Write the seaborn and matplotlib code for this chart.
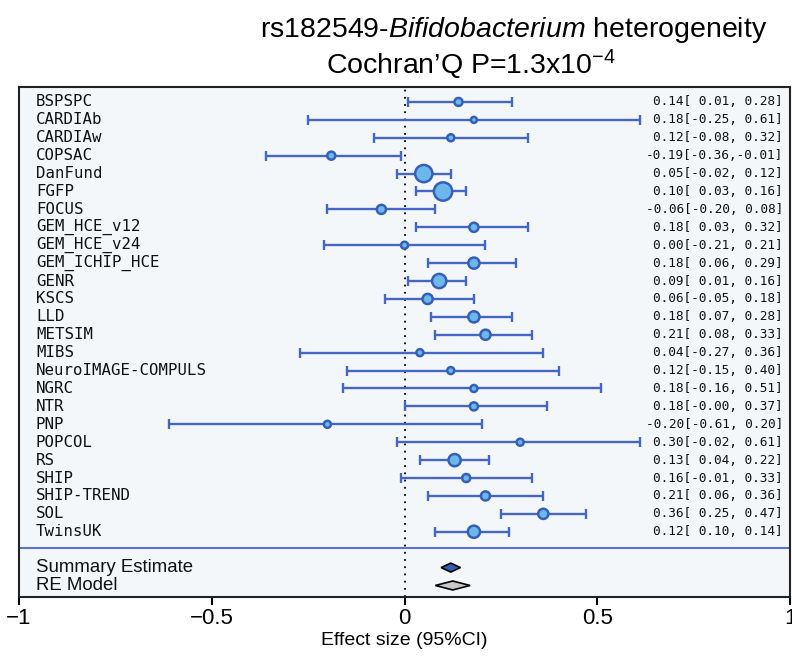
import matplotlib
matplotlib.use('Agg')

import numpy as np
import pandas as pd
import matplotlib.pyplot as plt
import seaborn as sns

# studies (top to bottom)
studies = ["BSPSPC", "CARDIAb", "CARDIAw", "COPSAC", "DanFund", "FGFP", "FOCUS",
           "GEM_HCE_v12", "GEM_HCE_v24", "GEM_ICHIP_HCE", "GENR", "KSCS", "LLD",
           "METSIM", "MIBS", "NeuroIMAGE-COMPULS", "NGRC", "NTR", "PNP", "POPCOL",
           "RS", "SHIP", "SHIP-TREND", "SOL", "TwinsUK"]

# effect sizes and 95% CI as drawn
est = [0.14, 0.18, 0.12, -0.19, 0.05, 0.10, -0.06, 0.18, 0.00, 0.18, 0.09, 0.06, 0.18,
       0.21, 0.04, 0.12, 0.18, 0.18, -0.20, 0.30, 0.13, 0.16, 0.21, 0.36, 0.18]
lo = [0.01, -0.25, -0.08, -0.36, -0.02, 0.03, -0.20, 0.03, -0.21, 0.06, 0.01, -0.05, 0.07,
      0.08, -0.27, -0.15, -0.16, -0.00, -0.61, -0.02, 0.04, -0.01, 0.06, 0.25, 0.08]
hi = [0.28, 0.61, 0.32, -0.01, 0.12, 0.16, 0.08, 0.32, 0.21, 0.29, 0.16, 0.18, 0.28,
      0.33, 0.36, 0.40, 0.51, 0.37, 0.20, 0.61, 0.22, 0.33, 0.36, 0.47, 0.27]

# study weights (%)
weights = [2.5, 1.4, 1.9, 2.5, 11.5, 12.9, 3.2, 3.2, 1.9, 4.8, 7.8, 4.0, 4.8,
           4.0, 1.9, 1.9, 1.9, 2.5, 1.9, 1.9, 5.7, 2.5, 3.2, 4.0, 5.7]

# right-hand column, as printed
ci_text = ["0.14[ 0.01, 0.28]", "0.18[-0.25, 0.61]", "0.12[-0.08, 0.32]",
           "-0.19[-0.36,-0.01]", "0.05[-0.02, 0.12]", "0.10[ 0.03, 0.16]",
           "-0.06[-0.20, 0.08]", "0.18[ 0.03, 0.32]", "0.00[-0.21, 0.21]",
           "0.18[ 0.06, 0.29]", "0.09[ 0.01, 0.16]", "0.06[-0.05, 0.18]",
           "0.18[ 0.07, 0.28]", "0.21[ 0.08, 0.33]", "0.04[-0.27, 0.36]",
           "0.12[-0.15, 0.40]", "0.18[-0.16, 0.51]", "0.18[-0.00, 0.37]",
           "-0.20[-0.61, 0.20]", "0.30[-0.02, 0.61]", "0.13[ 0.04, 0.22]",
           "0.16[-0.01, 0.33]", "0.21[ 0.06, 0.36]", "0.36[ 0.25, 0.47]",
           "0.12[ 0.10, 0.14]"]

# pooled estimates
pooled_names = ["Summary Estimate", "RE Model"]
pooled_est = [0.12, 0.125]
pooled_lo = [0.095, 0.08]
pooled_hi = [0.145, 0.17]

df = pd.DataFrame({"study": studies, "est": est, "lo": lo, "hi": hi, "weight": weights})
df["row"] = np.arange(len(df))

sns.set_theme(style="white")
plt.rcParams['font.family'] = ['Liberation Sans', 'DejaVu Sans']
plt.rcParams['text.color'] = 'black'
plt.rcParams['xtick.color'] = 'black'
plt.rcParams['axes.labelcolor'] = 'black'
plt.rcParams['mathtext.fontset'] = 'custom'
plt.rcParams['mathtext.rm'] = 'Liberation Sans'
plt.rcParams['mathtext.it'] = 'Liberation Sans:italic'

fig = plt.figure(figsize=(7.92, 6.62), dpi=100)
ax = fig.add_axes([0.024, 0.098, 0.9735, 0.771])
ax.set_facecolor('#f4f7f9')

line_col = '#4467c6'
ax.axvline(0, color='black', ls=(0, (1, 3)), lw=1.3, zorder=1)

ax.errorbar(df["est"], df["row"], xerr=[df["est"] - df["lo"], df["hi"] - df["est"]],
            fmt='none', ecolor=line_col, elinewidth=1.7, capsize=3.5, capthick=1.7, zorder=2)

k = 13.5
sns.scatterplot(data=df, x="est", y="row", size="weight",
                sizes=(k * min(weights), k * max(weights)),
                color='#6cb8ea', edgecolor='#3660b8', linewidth=1.8,
                legend=False, ax=ax, zorder=3)

n = len(studies)
ax.axhline(n - 0.1, color='#5b73d0', lw=1.5, zorder=2)

# diamonds
pooled_face = ['#2f5fb0', '#c8c8c8']
for i in range(2):
    yy = n + 1 + i
    xs = [pooled_lo[i], pooled_est[i], pooled_hi[i], pooled_est[i]]
    ys = [yy, yy - 0.25, yy, yy + 0.25]
    ax.fill(xs, ys, facecolor=pooled_face[i], edgecolor='black', lw=1.2, zorder=3)

# labels
ytr = ax.get_yaxis_transform()
for i, s in enumerate(studies):
    ax.text(0.022, i, s, transform=ytr, ha='left', va='center',
            family='DejaVu Sans Mono', fontsize=11.3, color='#111111')
    ax.text(0.991, i, ci_text[i], transform=ytr, ha='right', va='center',
            family='DejaVu Sans Mono', fontsize=9.2, color='#111111')
for i, s in enumerate(pooled_names):
    ax.text(0.022, n + 1 + i, s, transform=ytr, ha='left', va='center',
            fontsize=13.4, color='#111111')

ax.set_xlim(-1, 1)
ax.set_ylim(n + 2.65, -0.85)
ax.set_yticks([])
ax.set_xticks([-1, -0.5, 0, 0.5, 1])
ax.set_xticklabels(["\u22121", "\u22120.5", "0", "0.5", "1"], fontsize=16)
ax.tick_params(axis='x', direction='out', length=6, width=1.5, color='black', pad=2,
               bottom=True)
ax.set_xlabel("Effect size (95%CI)", fontsize=14, labelpad=2)
ax.set_ylabel("")
for sp in ax.spines.values():
    sp.set_color('#222222')
    sp.set_linewidth(1.5)

fig.text(0.649, 0.955, "rs182549-$\\it{Bifidobacterium}$ heterogeneity",
         ha='center', va='center', fontsize=20.5)
fig.text(0.595, 0.902, "Cochran\u2019Q P=1.3x10$^{\u22124}$",
         ha='center', va='center', fontsize=20.5)

fig.savefig("out.png", dpi=100)
